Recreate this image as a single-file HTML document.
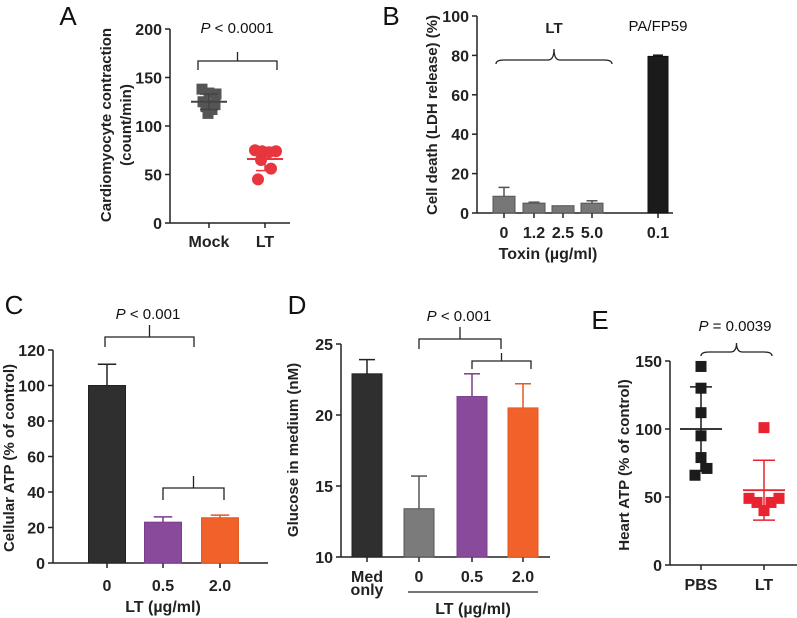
<!DOCTYPE html>
<html><head><meta charset="utf-8"><style>
body{margin:0;background:#fff}
svg{display:block;font-family:"Liberation Sans",Arial,sans-serif}
.tk{font-size:16px;font-weight:bold;fill:#222}
.lb{font-size:15px;font-weight:bold;fill:#222}
.pn{font-size:26px;fill:#111}
.pv{font-size:15px;fill:#111}
</style></head><body>
<svg id="fig" width="797" height="618" viewBox="0 0 797 618" xmlns="http://www.w3.org/2000/svg"></svg>
<script>
// Panel A
const aCats=["Mock","LT"];
const aMock=[138,134,133,125,122,120,117,113,119];
const aLT=[75,74,73,74,65,56,45];
const aMean=[125,66];const aSD=[8,12];
const aTicks=[0,50,100,150,200];
// Panel B
const bCats=["0","1.2","2.5","5.0","0.1"];
const bVals=[8.5,5,3.7,5,79.5];
const bErr=[4.5,0.5,0,1.2,0.6];
const bTicks=[0,20,40,60,80,100];
// Panel C
const cCats=["0","0.5","2.0"];
const cVals=[100,23,25.5];
const cErr=[12,3,1.5];
const cTicks=[0,20,40,60,80,100,120];
// Panel D
const dCats=["Med","0","0.5","2.0"];
const dVals=[22.9,13.4,21.3,20.5];
const dErr=[1.0,2.3,1.6,1.7];
const dTicks=[10,15,20,25];
// Panel E
const eCats=["PBS","LT"];
const ePBS=[146,130,112,95,79,66,71];
const eLTv=[101,49,46,40,46,49];
const eMean=[100,55];const eSD=[31,22];
const eTicks=[0,50,100,150];

const S=document.getElementById('fig');const NS="http://www.w3.org/2000/svg";
function mk(t,at,txt){const e=document.createElementNS(NS,t);for(const k in at)e.setAttribute(k,at[k]);if(txt!==undefined)e.textContent=txt;S.appendChild(e);return e;}
function ln(x1,y1,x2,y2,c,w){return mk('line',{x1,y1,x2,y2,stroke:c||'#222','stroke-width':w||1.5});}
function scale(d0,d1,r0,r1){return v=>r0+(v-d0)/(d1-d0)*(r1-r0);}
function axes(x0,x1,yb,yt,ticks,y,name){
  let e=ln(x0,yt,x0,yb);
  e=ln(x0,yb,x1,yb);
  ticks.forEach(t=>{ln(x0-5,y(t),x0,y(t));
    const tx=mk('text',{x:x0-8,y:y(t)+6,'text-anchor':'end',class:'tk'},t);
    });
}
function txt(x,y,s,cls,name,extra){const e=mk('text',Object.assign({x,y,class:cls,'text-anchor':'middle'},extra||{}),s);
  return e;}
function bar(cx,w,v,err,y,fill,stroke,name){
  const r=mk('rect',{x:cx-w/2,y:y(v),width:w,height:y(0)-y(v),fill,stroke,'stroke-width':1});
  
  if(err>0){ln(cx,y(v),cx,y(v+err),stroke,1.5);ln(cx-w/4,y(v+err),cx+w/4,y(v+err),stroke,1.5);}
}
function ylab(x,y,lines,name){const e=mk('text',{x:0,y:0,class:'lb','text-anchor':'middle',transform:`translate(${x},${y}) rotate(-90)`});
  
  lines.forEach((l,i)=>{const t=document.createElementNS(NS,'tspan');t.setAttribute('x',0);t.setAttribute('dy',i?20:0);t.textContent=l;e.appendChild(t);});}
function pval(x,y,rest,name){const e=mk('text',{x,y,class:'pv','text-anchor':'middle'});
  const a=document.createElementNS(NS,'tspan');a.setAttribute('font-style','italic');a.textContent='P';e.appendChild(a);
  const b=document.createElementNS(NS,'tspan');b.textContent=rest;e.appendChild(b);}
function bracket(x1,x2,y,drop,tip,c){const p=mk('path',{d:`M${x1},${y+drop}V${y}H${x2}V${y+drop}M${(x1+x2)/2},${y}V${y-tip}`,fill:'none',stroke:c||'#222','stroke-width':1.3});return p;}
function brace(x1,x2,y,h){const m=(x1+x2)/2;return mk('path',{d:`M${x1},${y+4}Q${x1},${y} ${x1+8},${y}H${m-6}Q${m},${y} ${m},${y-h}Q${m},${y} ${m+6},${y}H${x2-8}Q${x2},${y} ${x2},${y+4}`,fill:'none',stroke:'#222','stroke-width':1.3});}

// ---- A ----
txt(68,25,'A','pn','panel-a-label');
const yA=scale(0,200,223,29);const xA=[209,265];
axes(170,290,223,29,aTicks,yA,'panel-a');
aCats.forEach((c,i)=>{ln(xA[i],223,xA[i],228);txt(xA[i],247,c,'tk','panel-a-x-label-'+c.toLowerCase());});
ylab(111,125,['Cardiomyocyte contraction','(count/min)'],'panel-a-y-title');
pval(237,33,' < 0.0001','panel-a-p-value');
{const b=bracket(198,277,61,9,9);}
const aDx=[-7,0,7,-6,6,-3,3,-1,2];
aMock.forEach((v,i)=>{const r=mk('rect',{x:xA[0]+aDx[i]-5.5,y:yA(v)-5.5,width:11,height:11,fill:'#555'});
  });
const aLDx=[-10,-3,4,11,-4,6,-7];
aLT.forEach((v,i)=>{const c=mk('circle',{cx:xA[1]+aLDx[i],cy:yA(v),r:6,fill:'#e8363f'});
  });
const aCol=['#444','#e8363f'];
aMean.forEach((m,i)=>{ln(xA[i]-18,yA(m),xA[i]+18,yA(m),aCol[i],2);ln(xA[i],yA(m-aSD[i]),xA[i],yA(m+aSD[i]),aCol[i],1.5);
  ln(xA[i]-9,yA(m+aSD[i]),xA[i]+9,yA(m+aSD[i]),aCol[i],1.5);ln(xA[i]-9,yA(m-aSD[i]),xA[i]+9,yA(m-aSD[i]),aCol[i],1.5);});

// ---- B ----
txt(391,25,'B','pn','panel-b-label');
const yB=scale(0,100,213,16);const xB=[504,534,563,592,658];
axes(477,673,213,16,bTicks,yB,'panel-b');
bCats.forEach((c,i)=>{ln(xB[i],213,xB[i],218);
  bar(xB[i],i==4?20:22,bVals[i],bErr[i],yB,i==4?'#1b1b1b':'#777',i==4?'#111':'#555','panel-b-bar-'+c);
  txt(xB[i],238,c,'tk','panel-b-x-label');});
txt(548,259,'Toxin (µg/ml)','tk','panel-b-x-title');
ylab(437,115,['Cell death (LDH release) (%)'],'panel-b-y-title');
txt(554,33,'LT','lb','panel-b-lt-label');
txt(658,31,'PA/FP59','pv','panel-b-pafp59-label');
{const b=brace(496,612,60,11);}

// ---- C ----
txt(14,314,'C','pn','panel-c-label');
const yC=scale(0,120,563,350);const xC=[107,163,220];const cFill=['#2f2f2f','#8a4a9c','#f0622a'];const cStr=['#222','#7a3d8c','#e05a25'];
axes(53,268,563,350,cTicks,yC,'panel-c');
cCats.forEach((c,i)=>{ln(xC[i],563,xC[i],568);bar(xC[i],37,cVals[i],cErr[i],yC,cFill[i],cStr[i],'panel-c-bar-'+c);
  txt(xC[i],591,c,'tk','panel-c-x-label');});
txt(163,612,'LT (µg/ml)','tk','panel-c-x-title');
ylab(14,458,['Cellular ATP (% of control)'],'panel-c-y-title');
pval(148,319,' < 0.001','panel-c-p-value');
{let b=bracket(105,194,337,10,12);
 b=bracket(163,224,488,12,12);}

// ---- D ----
txt(297,314,'D','pn','panel-d-label');
const yD=scale(10,25,557,344);const xD=[367,419,472,523];const dFill=['#2f2f2f','#7b7b7b','#8a4a9c','#f0622a'];const dStr=['#222','#555','#7a3d8c','#e05a25'];
axes(341,550,557,344,dTicks,yD,'panel-d');
const y0D=yD(10);
dCats.forEach((c,i)=>{ln(xD[i],557,xD[i],562);
  const r=mk('rect',{x:xD[i]-15,y:yD(dVals[i]),width:30,height:y0D-yD(dVals[i]),fill:dFill[i],stroke:dStr[i]});
  
  ln(xD[i],yD(dVals[i]),xD[i],yD(dVals[i]+dErr[i]),dStr[i]);ln(xD[i]-8,yD(dVals[i]+dErr[i]),xD[i]+8,yD(dVals[i]+dErr[i]),dStr[i]);
  txt(xD[i],582,c,'tk','panel-d-x-label');});
txt(367,595,'only','tk','panel-d-x-label-only');
{const u=ln(408,592,538,592,'#222',1.3);}
txt(473,614,'LT (µg/ml)','tk','panel-d-x-title');
ylab(298,450,['Glucose in medium (nM)'],'panel-d-y-title');
pval(459,321,' < 0.001','panel-d-p-value');
{let b=bracket(419,501,339,10,12);
 b=bracket(472,531,361,8,8);}

// ---- E ----
txt(600,329,'E','pn','panel-e-label');
const yE=scale(0,150,565,361);const xE=[701,764];
axes(670,797,565,361,eTicks,yE,'panel-e');
eCats.forEach((c,i)=>{ln(xE[i],565,xE[i],570);txt(xE[i],590,c,'tk','panel-e-x-label-'+c.toLowerCase());});
ylab(629,465,['Heart ATP (% of control)'],'panel-e-y-title');
pval(735,331,' = 0.0039','panel-e-p-value');
{const b=brace(701,772,352,9);}
const eCol=['#1b1b1b','#e8222e'];
eMean.forEach((m,i)=>{ln(xE[i]-21,yE(m),xE[i]+21,yE(m),eCol[i],1.8);ln(xE[i],yE(m-eSD[i]),xE[i],yE(m+eSD[i]),eCol[i],1.5);
  ln(xE[i]-11,yE(m+eSD[i]),xE[i]+11,yE(m+eSD[i]),eCol[i],1.5);ln(xE[i]-11,yE(m-eSD[i]),xE[i]+11,yE(m-eSD[i]),eCol[i],1.5);});
const pbsDx=[0,0,0,0,0,-6,6];
ePBS.forEach((v,i)=>{const r=mk('rect',{x:xE[0]+pbsDx[i]-5.5,y:yE(v)-5.5,width:11,height:11,fill:'#1b1b1b'});
  });
const ltDx=[0,-15,-7,0,7,15];
eLTv.forEach((v,i)=>{const r=mk('rect',{x:xE[1]+ltDx[i]-5.5,y:yE(v)-5.5,width:11,height:11,fill:'#e8222e'});
  });
</script>
</body></html>
